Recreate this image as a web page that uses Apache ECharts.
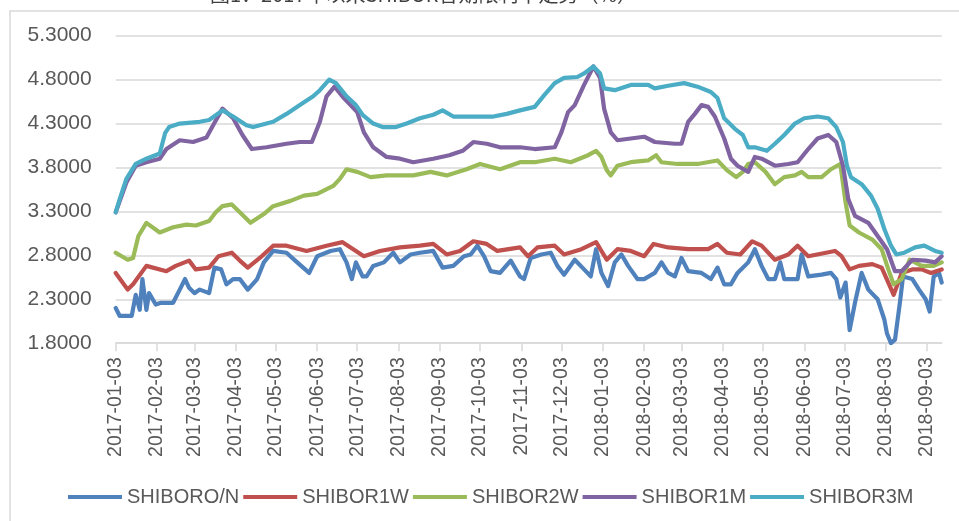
<!DOCTYPE html>
<html><head><meta charset="utf-8">
<script src="https://cdn.jsdelivr.net/npm/echarts@6/dist/echarts.min.js"></script>
<style>html,body{margin:0;padding:0;background:#fff}#c{width:959px;height:521px}</style>
</head><body><div id="c"></div>
<script>
const titleText = '图1：2017年以来SHIBOR各期限利率走势（%）';
const startDate = '2017-01-03';
const endDate = '2018-09-14';
const yMin = 1.8, yMax = 5.3, yStep = 0.5;
const seriesNames = ['SHIBORO/N', 'SHIBOR1W', 'SHIBOR2W', 'SHIBOR1M', 'SHIBOR3M'];
const seriesColors = ['#4F81BD', '#C0504D', '#9BBB59', '#8064A2', '#4BACC6'];

const shiborON = [
['2017-01-03',2.20],['2017-01-06',2.11],['2017-01-15',2.11],['2017-01-18',2.35],['2017-01-21',2.18],['2017-01-23',2.53],['2017-01-26',2.18],['2017-01-28',2.37],
['2017-02-02',2.24],['2017-02-06',2.26],['2017-02-15',2.26],['2017-02-20',2.41],['2017-02-24',2.53],['2017-02-27',2.43],['2017-03-03',2.37],['2017-03-07',2.41],
['2017-03-14',2.37],['2017-03-18',2.66],['2017-03-23',2.64],['2017-03-27',2.47],['2017-04-01',2.53],['2017-04-06',2.53],['2017-04-12',2.41],['2017-04-19',2.53],
['2017-04-24',2.72],['2017-05-01',2.85],['2017-05-11',2.83],['2017-05-19',2.72],['2017-05-28',2.60],['2017-06-03',2.79],['2017-06-13',2.85],['2017-06-20',2.87],
['2017-06-25',2.72],['2017-06-29',2.53],['2017-07-02',2.72],['2017-07-07',2.56],['2017-07-10',2.56],['2017-07-15',2.68],['2017-07-23',2.72],['2017-07-30',2.83],
['2017-08-04',2.72],['2017-08-12',2.81],['2017-08-19',2.83],['2017-08-29',2.85],['2017-09-05',2.66],['2017-09-13',2.68],['2017-09-21',2.79],['2017-09-26',2.81],
['2017-10-01',2.91],['2017-10-06',2.79],['2017-10-11',2.62],['2017-10-18',2.60],['2017-10-26',2.74],['2017-11-02',2.56],['2017-11-05',2.53],['2017-11-10',2.77],
['2017-11-18',2.81],['2017-11-25',2.83],['2017-11-30',2.68],['2017-12-05',2.58],['2017-12-13',2.75],['2017-12-20',2.64],['2017-12-25',2.56],['2017-12-29',2.87],
['2018-01-02',2.60],['2018-01-07',2.45],['2018-01-12',2.72],['2018-01-17',2.81],['2018-01-22',2.68],['2018-01-29',2.53],['2018-02-03',2.53],['2018-02-11',2.60],
['2018-02-16',2.72],['2018-02-21',2.60],['2018-02-26',2.56],['2018-03-03',2.77],['2018-03-08',2.62],['2018-03-18',2.60],['2018-03-25',2.53],['2018-03-30',2.66],
['2018-04-04',2.47],['2018-04-09',2.47],['2018-04-14',2.60],['2018-04-22',2.72],['2018-04-27',2.87],['2018-05-02',2.68],['2018-05-07',2.53],['2018-05-12',2.53],
['2018-05-16',2.72],['2018-05-19',2.53],['2018-05-29',2.53],['2018-06-01',2.81],['2018-06-06',2.56],['2018-06-16',2.58],['2018-06-23',2.60],['2018-06-27',2.53],
['2018-06-30',2.32],['2018-07-04',2.49],['2018-07-07',1.95],['2018-07-11',2.26],['2018-07-16',2.60],['2018-07-21',2.41],['2018-07-28',2.30],['2018-08-02',2.07],
['2018-08-04',1.91],['2018-08-07',1.80],['2018-08-10',1.84],['2018-08-14',2.30],['2018-08-16',2.56],['2018-08-23',2.53],['2018-08-28',2.41],['2018-09-02',2.30],
['2018-09-05',2.16],['2018-09-08',2.56],['2018-09-12',2.60],['2018-09-14',2.49]
];

const shibor1W = [
['2017-01-03',2.60],['2017-01-12',2.41],['2017-01-16',2.47],['2017-01-26',2.68],['2017-02-10',2.62],['2017-02-17',2.68],['2017-02-27',2.74],['2017-03-04',2.64],
['2017-03-14',2.66],['2017-03-21',2.79],['2017-03-31',2.83],['2017-04-06',2.74],['2017-04-12',2.66],['2017-04-21',2.77],['2017-05-01',2.91],['2017-05-11',2.91],
['2017-05-26',2.85],['2017-06-10',2.91],['2017-06-22',2.95],['2017-06-30',2.87],['2017-07-08',2.79],['2017-07-20',2.85],['2017-08-04',2.89],['2017-08-19',2.91],
['2017-08-29',2.93],['2017-09-08',2.81],['2017-09-18',2.85],['2017-09-28',2.96],['2017-10-08',2.93],['2017-10-16',2.85],['2017-11-02',2.89],['2017-11-08',2.79],
['2017-11-15',2.89],['2017-11-28',2.91],['2017-12-05',2.81],['2017-12-18',2.87],['2017-12-29',2.95],['2018-01-06',2.75],['2018-01-14',2.87],['2018-01-24',2.85],
['2018-02-03',2.79],['2018-02-10',2.93],['2018-02-21',2.89],['2018-03-08',2.87],['2018-03-23',2.87],['2018-03-30',2.93],['2018-04-06',2.83],['2018-04-16',2.81],
['2018-04-25',2.96],['2018-05-02',2.91],['2018-05-12',2.75],['2018-05-22',2.81],['2018-05-29',2.91],['2018-06-06',2.79],['2018-06-26',2.85],['2018-07-01',2.79],
['2018-07-07',2.64],['2018-07-14',2.68],['2018-07-24',2.70],['2018-07-31',2.66],['2018-08-05',2.49],['2018-08-09',2.35],['2018-08-15',2.60],['2018-08-23',2.64],
['2018-08-30',2.64],['2018-09-06',2.60],['2018-09-14',2.64]
];

const shibor2W = [
['2017-01-03',2.83],['2017-01-12',2.75],['2017-01-16',2.77],['2017-01-20',3.02],['2017-01-26',3.17],['2017-02-05',3.06],['2017-02-15',3.12],['2017-02-25',3.15],
['2017-03-04',3.14],['2017-03-14',3.19],['2017-03-19',3.29],['2017-03-24',3.36],['2017-03-31',3.38],['2017-04-06',3.29],['2017-04-14',3.17],['2017-04-24',3.27],
['2017-05-01',3.36],['2017-05-14',3.42],['2017-05-24',3.48],['2017-06-03',3.50],['2017-06-15',3.59],['2017-06-20',3.67],['2017-06-25',3.78],['2017-07-03',3.75],
['2017-07-13',3.69],['2017-07-25',3.71],['2017-08-14',3.71],['2017-08-27',3.75],['2017-09-08',3.71],['2017-09-23',3.78],['2017-10-03',3.84],['2017-10-18',3.78],
['2017-11-02',3.86],['2017-11-13',3.86],['2017-11-28',3.90],['2017-12-10',3.86],['2017-12-23',3.94],['2017-12-29',3.99],['2018-01-02',3.92],['2018-01-06',3.77],
['2018-01-09',3.71],['2018-01-14',3.82],['2018-01-24',3.86],['2018-02-06',3.88],['2018-02-12',3.94],['2018-02-16',3.86],['2018-02-28',3.84],['2018-03-15',3.84],
['2018-03-30',3.88],['2018-04-06',3.77],['2018-04-13',3.69],['2018-04-18',3.75],['2018-04-22',3.84],['2018-04-27',3.86],['2018-05-05',3.75],['2018-05-12',3.61],
['2018-05-19',3.69],['2018-05-27',3.71],['2018-06-01',3.75],['2018-06-06',3.69],['2018-06-16',3.69],['2018-06-23',3.78],['2018-06-30',3.84],['2018-07-04',3.40],
['2018-07-07',3.14],['2018-07-14',3.06],['2018-07-24',2.98],['2018-07-31',2.87],['2018-08-05',2.64],['2018-08-09',2.47],['2018-08-15',2.53],['2018-08-21',2.75],
['2018-08-30',2.68],['2018-09-08',2.68],['2018-09-14',2.72]
];

const shibor1M = [
['2017-01-03',3.29],['2017-01-11',3.63],['2017-01-18',3.82],['2017-01-26',3.86],['2017-02-05',3.90],['2017-02-10',4.01],['2017-02-20',4.11],['2017-03-02',4.09],
['2017-03-12',4.14],['2017-03-17',4.28],['2017-03-24',4.47],['2017-04-01',4.36],['2017-04-08',4.17],['2017-04-15',4.01],['2017-04-26',4.03],['2017-05-11',4.07],
['2017-05-21',4.09],['2017-05-30',4.09],['2017-06-05',4.32],['2017-06-10',4.61],['2017-06-16',4.72],['2017-06-23',4.59],['2017-07-03',4.43],['2017-07-08',4.20],
['2017-07-15',4.03],['2017-07-25',3.92],['2017-08-04',3.90],['2017-08-14',3.86],['2017-08-29',3.90],['2017-09-10',3.94],['2017-09-20',3.99],['2017-09-28',4.09],
['2017-10-08',4.07],['2017-10-18',4.03],['2017-11-02',4.03],['2017-11-13',4.01],['2017-11-28',4.03],['2017-12-03',4.20],['2017-12-08',4.43],['2017-12-13',4.51],
['2017-12-20',4.74],['2017-12-27',4.95],['2018-01-01',4.82],['2018-01-04',4.47],['2018-01-09',4.20],['2018-01-14',4.11],['2018-01-24',4.13],['2018-02-03',4.15],
['2018-02-11',4.09],['2018-02-26',4.07],['2018-03-03',4.07],['2018-03-08',4.32],['2018-03-13',4.41],['2018-03-18',4.51],['2018-03-23',4.49],['2018-03-28',4.38],
['2018-04-04',4.13],['2018-04-09',3.90],['2018-04-14',3.82],['2018-04-22',3.75],['2018-04-27',3.92],['2018-05-02',3.90],['2018-05-12',3.82],['2018-05-22',3.84],
['2018-05-29',3.86],['2018-06-06',4.01],['2018-06-13',4.13],['2018-06-21',4.17],['2018-06-27',4.09],['2018-07-02',3.82],['2018-07-06',3.44],['2018-07-11',3.25],
['2018-07-21',3.17],['2018-07-28',3.02],['2018-08-04',2.87],['2018-08-10',2.62],['2018-08-15',2.62],['2018-08-23',2.75],['2018-09-02',2.74],['2018-09-09',2.72],
['2018-09-14',2.79]
];

const shibor3M = [
['2017-01-03',3.29],['2017-01-06',3.44],['2017-01-11',3.67],['2017-01-18',3.84],['2017-01-26',3.90],['2017-02-05',3.96],['2017-02-09',4.19],['2017-02-12',4.26],
['2017-02-20',4.30],['2017-03-07',4.32],['2017-03-14',4.34],['2017-03-24',4.45],['2017-04-01',4.38],['2017-04-11',4.28],['2017-04-16',4.26],['2017-05-01',4.32],
['2017-05-11',4.41],['2017-05-21',4.51],['2017-05-31',4.61],['2017-06-05',4.68],['2017-06-12',4.80],['2017-06-17',4.76],['2017-06-25',4.61],['2017-07-02',4.51],
['2017-07-07',4.40],['2017-07-15',4.30],['2017-07-22',4.26],['2017-08-01',4.26],['2017-08-09',4.30],['2017-08-19',4.36],['2017-08-29',4.40],['2017-09-05',4.45],
['2017-09-13',4.38],['2017-09-23',4.38],['2017-10-13',4.38],['2017-10-23',4.41],['2017-11-02',4.45],['2017-11-13',4.49],['2017-11-20',4.62],['2017-11-28',4.76],
['2017-12-05',4.82],['2017-12-15',4.83],['2017-12-20',4.87],['2017-12-27',4.95],['2018-01-01',4.87],['2018-01-04',4.70],['2018-01-12',4.68],['2018-01-24',4.74],
['2018-02-06',4.74],['2018-02-11',4.70],['2018-02-21',4.73],['2018-03-05',4.76],['2018-03-15',4.72],['2018-03-25',4.66],['2018-03-30',4.59],['2018-04-04',4.36],
['2018-04-12',4.24],['2018-04-18',4.17],['2018-04-22',4.03],['2018-04-27',4.03],['2018-05-06',3.99],['2018-05-12',4.07],['2018-05-19',4.17],['2018-05-27',4.30],
['2018-06-03',4.36],['2018-06-13',4.38],['2018-06-21',4.36],['2018-06-27',4.26],['2018-07-02',4.09],['2018-07-05',3.82],['2018-07-08',3.69],['2018-07-16',3.61],
['2018-07-23',3.48],['2018-07-28',3.33],['2018-08-02',3.10],['2018-08-07',2.91],['2018-08-11',2.81],['2018-08-17',2.83],['2018-08-25',2.89],['2018-09-01',2.91],
['2018-09-09',2.85],['2018-09-14',2.83]
];

const seriesData = [shiborON, shibor1W, shibor2W, shibor1M, shibor3M];

function buildDays(a, b) {
  const out = [];
  let t = Date.parse(a + 'T00:00:00Z');
  const end = Date.parse(b + 'T00:00:00Z');
  while (t <= end) { out.push(new Date(t).toISOString().slice(0, 10)); t += 86400000; }
  return out;
}
const days = buildDays(startDate, endDate);
const isTickDay = (i, v) => v.slice(8) === '03';

const FONT = "'Liberation Sans', Arial, sans-serif";
const chart = echarts.init(document.getElementById('c'), null, { renderer: 'canvas' });
chart.setOption({
  animation: false,
  backgroundColor: '#ffffff',
  title: {
    text: titleText, left: 205, top: -21,
    textStyle: { fontSize: 20, fontWeight: 'normal', color: '#404040', fontFamily: "'Noto Sans CJK SC', sans-serif" }
  },
  graphic: [{
    type: 'rect', silent: true, z: -1,
    shape: { x: 10, y: 11, width: 1000, height: 600 },
    style: { fill: 'none', stroke: '#d9d9d9', lineWidth: 1.5 }
  }],
  grid: { left: 115.7, right: 17.3, top: 35.7, bottom: 177.8, containLabel: false, outerBoundsMode: 'none' },
  legend: {
    data: seriesNames, left: 63, top: 482, icon: 'rect', itemWidth: 54, itemHeight: 4, itemGap: 4,
    textStyle: { fontSize: 20, color: '#595959', fontFamily: FONT }
  },
  xAxis: {
    type: 'category', data: days, boundaryGap: false,
    axisLine: { lineStyle: { color: '#d9d9d9', width: 1.5 } },
    axisTick: { show: true, interval: isTickDay, length: 8, lineStyle: { color: '#d9d9d9', width: 1.5 } },
    axisLabel: { interval: isTickDay, rotate: 90, margin: 14, fontSize: 19.5, color: '#595959', fontFamily: FONT },
    splitLine: { show: false }
  },
  yAxis: {
    type: 'value', min: yMin, max: yMax, interval: yStep,
    axisLine: { show: false }, axisTick: { show: false },
    axisLabel: { margin: 24, fontSize: 21, color: '#595959', fontFamily: FONT, formatter: v => v.toFixed(4) },
    splitLine: { lineStyle: { color: '#d9d9d9', width: 1.5 } }
  },
  series: seriesNames.map((name, k) => ({
    name, type: 'line', data: seriesData[k], showSymbol: false, symbol: 'none',
    color: seriesColors[k],
    lineStyle: { width: 4.2, color: seriesColors[k], cap: 'round', join: 'round' }
  }))
});
</script></body></html>
